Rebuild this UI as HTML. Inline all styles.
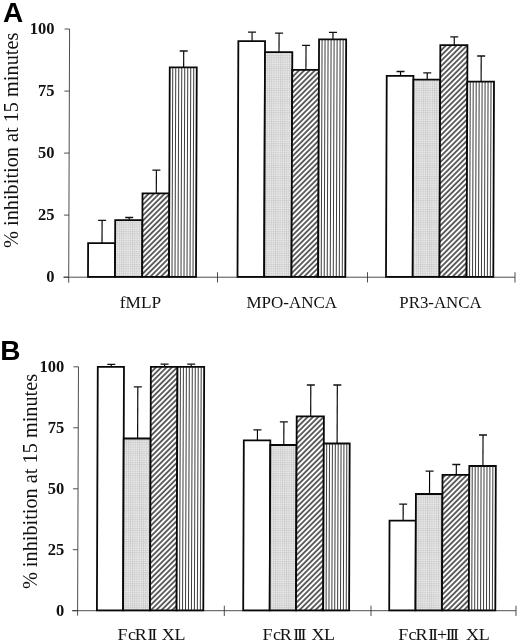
<!DOCTYPE html>
<html><head><meta charset="utf-8"><title>Figure</title>
<style>
html,body{margin:0;padding:0;background:#fff;}
body{width:520px;height:643px;overflow:hidden;}
svg{display:block;}
.lab{font-family:"Liberation Serif",serif;font-size:17px;fill:#111;}
.tick{font-family:"Liberation Serif",serif;font-size:16.5px;font-weight:bold;fill:#111;}
.yl{font-family:"Liberation Serif",serif;font-size:20.3px;fill:#111;}
.pan{font-family:"Liberation Sans",sans-serif;font-size:28px;font-weight:bold;fill:#000;}
</style></head><body>
<svg width="520" height="643" viewBox="0 0 520 643">
<defs>
<pattern id="pg" width="2.2" height="2.2" patternUnits="userSpaceOnUse">
<rect width="2.2" height="2.2" fill="#eeeeee"/>
<path d="M0 0.5H2.2M0.5 0V2.2" stroke="#cacaca" stroke-width="0.75"/>
</pattern>
<pattern id="pd" width="3.75" height="3.75" patternUnits="userSpaceOnUse" patternTransform="rotate(-45)">
<rect width="3.75" height="3.75" fill="#fff"/>
<path d="M0 1.9H3.75" stroke="#000" stroke-width="1.2"/>
</pattern>
</defs>
<rect width="520" height="643" fill="#fff"/>

<text class="pan" x="3" y="21.7">A</text>
<text class="yl" transform="translate(18.4,140.3) rotate(-90)" text-anchor="middle">% inhibition at 15 minutes</text>
<g transform="translate(0.998 0) skewX(-0.206)">
<path d="M68.7 29V282.7M63.5 277.2H515" stroke="#3a3a3a" stroke-width="0.9" fill="none"/>
<path d="M63.7 277.2H68.7" stroke="#3a3a3a" stroke-width="0.9"/>
<path d="M63.7 215.1H68.7" stroke="#3a3a3a" stroke-width="0.9"/>
<path d="M63.7 153.1H68.7" stroke="#3a3a3a" stroke-width="0.9"/>
<path d="M63.7 91.1H68.7" stroke="#3a3a3a" stroke-width="0.9"/>
<path d="M63.7 29.0H68.7" stroke="#3a3a3a" stroke-width="0.9"/>
<path d="M217.5 272.2V282.5" stroke="#3a3a3a" stroke-width="0.9"/>
<path d="M367.5 272.2V282.5" stroke="#3a3a3a" stroke-width="0.9"/>
<path d="M515 272.2V282.5" stroke="#3a3a3a" stroke-width="0.9"/>
<path d="M101.9 243.2V220.4" stroke="#000" stroke-width="1.15"/>
<path d="M97.9 220.4H105.9" stroke="#111" stroke-width="1.3"/>
<rect x="88" y="243.2" width="27.0" height="33.6" fill="#fff" stroke="#080808" stroke-width="1.8"/>
<path d="M129.0 220.2V217.5" stroke="#000" stroke-width="1.15"/>
<path d="M125.0 217.5H133.0" stroke="#111" stroke-width="1.3"/>
<rect x="115" y="220.2" width="27.2" height="56.6" fill="url(#pg)" stroke="#080808" stroke-width="1.8"/>
<path d="M156.0 193.3V170.2" stroke="#000" stroke-width="1.15"/>
<path d="M152.0 170.2H160.0" stroke="#111" stroke-width="1.3"/>
<rect x="142.2" y="193.3" width="26.8" height="83.5" fill="url(#pd)" stroke="#080808" stroke-width="1.8"/>
<path d="M182.9 67.3V51" stroke="#000" stroke-width="1.15"/>
<path d="M178.9 51H186.9" stroke="#111" stroke-width="1.3"/>
<rect x="169" y="67.3" width="27.0" height="209.5" fill="#fff" stroke="#080808" stroke-width="1.8"/>
<path d="M172.00 67.3V276.8M175.00 67.3V276.8M178.00 67.3V276.8M181.00 67.3V276.8M184.00 67.3V276.8M187.00 67.3V276.8M190.00 67.3V276.8M193.00 67.3V276.8" stroke="#1a1a1a" stroke-width="0.85" fill="none"/>
<path d="M251.2 41.2V32.2" stroke="#000" stroke-width="1.15"/>
<path d="M247.2 32.2H255.2" stroke="#111" stroke-width="1.3"/>
<rect x="237.5" y="41.2" width="26.7" height="235.6" fill="#fff" stroke="#080808" stroke-width="1.8"/>
<path d="M278.2 52.1V33.1" stroke="#000" stroke-width="1.15"/>
<path d="M274.2 33.1H282.2" stroke="#111" stroke-width="1.3"/>
<rect x="264.2" y="52.1" width="27.3" height="224.7" fill="url(#pg)" stroke="#080808" stroke-width="1.8"/>
<path d="M305.2 69.8V45.4" stroke="#000" stroke-width="1.15"/>
<path d="M301.2 45.4H309.2" stroke="#111" stroke-width="1.3"/>
<rect x="291.5" y="69.8" width="26.7" height="207.0" fill="url(#pd)" stroke="#080808" stroke-width="1.8"/>
<path d="M332.1 39.4V32.3" stroke="#000" stroke-width="1.15"/>
<path d="M328.1 32.3H336.1" stroke="#111" stroke-width="1.3"/>
<rect x="318.2" y="39.4" width="27.1" height="237.4" fill="#fff" stroke="#080808" stroke-width="1.8"/>
<path d="M321.21 39.4V276.8M324.22 39.4V276.8M327.23 39.4V276.8M330.24 39.4V276.8M333.26 39.4V276.8M336.27 39.4V276.8M339.28 39.4V276.8M342.29 39.4V276.8" stroke="#1a1a1a" stroke-width="0.85" fill="none"/>
<path d="M399.8 75.8V71.5" stroke="#000" stroke-width="1.15"/>
<path d="M395.8 71.5H403.8" stroke="#111" stroke-width="1.3"/>
<rect x="386" y="75.8" width="26.7" height="201.0" fill="#fff" stroke="#080808" stroke-width="1.8"/>
<path d="M426.5 79.6V72.9" stroke="#000" stroke-width="1.15"/>
<path d="M422.5 72.9H430.5" stroke="#111" stroke-width="1.3"/>
<rect x="412.7" y="79.6" width="26.8" height="197.2" fill="url(#pg)" stroke="#080808" stroke-width="1.8"/>
<path d="M453.4 45.2V36.9" stroke="#000" stroke-width="1.15"/>
<path d="M449.4 36.9H457.4" stroke="#111" stroke-width="1.3"/>
<rect x="439.5" y="45.2" width="27.1" height="231.6" fill="url(#pd)" stroke="#080808" stroke-width="1.8"/>
<path d="M480.4 81.7V56" stroke="#000" stroke-width="1.15"/>
<path d="M476.4 56H484.4" stroke="#111" stroke-width="1.3"/>
<rect x="466.6" y="81.7" width="26.7" height="195.1" fill="#fff" stroke="#080808" stroke-width="1.8"/>
<path d="M469.57 81.7V276.8M472.53 81.7V276.8M475.50 81.7V276.8M478.47 81.7V276.8M481.43 81.7V276.8M484.40 81.7V276.8M487.37 81.7V276.8M490.33 81.7V276.8" stroke="#1a1a1a" stroke-width="0.85" fill="none"/>
</g>
<text class="tick" x="54.6" y="282.4" text-anchor="end">0</text>
<text class="tick" x="54.6" y="220.3" text-anchor="end">25</text>
<text class="tick" x="54.6" y="158.3" text-anchor="end">50</text>
<text class="tick" x="54.6" y="96.3" text-anchor="end">75</text>
<text class="tick" x="54.6" y="34.2" text-anchor="end">100</text>
<text class="lab" x="119.8" y="307.8" textLength="41.3" lengthAdjust="spacingAndGlyphs">fMLP</text>
<text class="lab" x="246.5" y="307.8" textLength="90.5" lengthAdjust="spacingAndGlyphs">MPO-ANCA</text>
<text class="lab" x="399.3" y="307.8" textLength="82.3" lengthAdjust="spacingAndGlyphs">PR3-ANCA</text>
<text class="pan" x="0.3" y="360">B</text>
<text class="yl" transform="translate(37.3,481.5) rotate(-90)" text-anchor="middle">% inhibition at 15 minutes</text>
<g transform="translate(2.199 0) skewX(-0.206)">
<path d="M77.6 366.8V615.7M72 610.7H516" stroke="#3a3a3a" stroke-width="0.9" fill="none"/>
<path d="M72.6 610.7H77.6" stroke="#3a3a3a" stroke-width="0.9"/>
<path d="M72.6 549.7H77.6" stroke="#3a3a3a" stroke-width="0.9"/>
<path d="M72.6 488.8H77.6" stroke="#3a3a3a" stroke-width="0.9"/>
<path d="M72.6 427.8H77.6" stroke="#3a3a3a" stroke-width="0.9"/>
<path d="M72.6 366.8H77.6" stroke="#3a3a3a" stroke-width="0.9"/>
<path d="M224.3 605.7V616.0" stroke="#3a3a3a" stroke-width="0.9"/>
<path d="M371 605.7V616.0" stroke="#3a3a3a" stroke-width="0.9"/>
<path d="M516 605.7V616.0" stroke="#3a3a3a" stroke-width="0.9"/>
<path d="M110.4 366.9V364.4" stroke="#000" stroke-width="1.15"/>
<path d="M106.4 364.4H114.4" stroke="#111" stroke-width="1.3"/>
<rect x="96.9" y="366.9" width="26.2" height="243.4" fill="#fff" stroke="#080808" stroke-width="1.8"/>
<path d="M137.0 438.5V386.9" stroke="#000" stroke-width="1.15"/>
<path d="M133.0 386.9H141.0" stroke="#111" stroke-width="1.3"/>
<rect x="123.1" y="438.5" width="26.9" height="171.8" fill="url(#pg)" stroke="#080808" stroke-width="1.8"/>
<path d="M163.7 366.9V364.2" stroke="#000" stroke-width="1.15"/>
<path d="M159.7 364.2H167.7" stroke="#111" stroke-width="1.3"/>
<rect x="150" y="366.9" width="26.6" height="243.4" fill="url(#pd)" stroke="#080808" stroke-width="1.8"/>
<path d="M190.3 366.9V364.2" stroke="#000" stroke-width="1.15"/>
<path d="M186.3 364.2H194.3" stroke="#111" stroke-width="1.3"/>
<rect x="176.6" y="366.9" width="26.7" height="243.4" fill="#fff" stroke="#080808" stroke-width="1.8"/>
<path d="M179.57 366.9V610.3M182.53 366.9V610.3M185.50 366.9V610.3M188.47 366.9V610.3M191.43 366.9V610.3M194.40 366.9V610.3M197.37 366.9V610.3M200.33 366.9V610.3" stroke="#1a1a1a" stroke-width="0.85" fill="none"/>
<path d="M256.8 440.4V429.8" stroke="#000" stroke-width="1.15"/>
<path d="M252.8 429.8H260.8" stroke="#111" stroke-width="1.3"/>
<rect x="243.2" y="440.4" width="26.5" height="169.9" fill="#fff" stroke="#080808" stroke-width="1.8"/>
<path d="M283.2 445V421.9" stroke="#000" stroke-width="1.15"/>
<path d="M279.2 421.9H287.2" stroke="#111" stroke-width="1.3"/>
<rect x="269.7" y="445" width="26.3" height="165.3" fill="url(#pg)" stroke="#080808" stroke-width="1.8"/>
<path d="M310.0 416.3V385" stroke="#000" stroke-width="1.15"/>
<path d="M306.0 385H314.0" stroke="#111" stroke-width="1.3"/>
<rect x="296" y="416.3" width="27.2" height="194.0" fill="url(#pd)" stroke="#080808" stroke-width="1.8"/>
<path d="M336.5 443.5V385" stroke="#000" stroke-width="1.15"/>
<path d="M332.5 385H340.5" stroke="#111" stroke-width="1.3"/>
<rect x="323.2" y="443.5" width="25.9" height="166.8" fill="#fff" stroke="#080808" stroke-width="1.8"/>
<path d="M326.08 443.5V610.3M328.96 443.5V610.3M331.83 443.5V610.3M334.71 443.5V610.3M337.59 443.5V610.3M340.47 443.5V610.3M343.34 443.5V610.3M346.22 443.5V610.3" stroke="#1a1a1a" stroke-width="0.85" fill="none"/>
<path d="M402.8 520.6V504.1" stroke="#000" stroke-width="1.15"/>
<path d="M398.8 504.1H406.8" stroke="#111" stroke-width="1.3"/>
<rect x="389.2" y="520.6" width="26.3" height="89.7" fill="#fff" stroke="#080808" stroke-width="1.8"/>
<path d="M429.1 494V471.2" stroke="#000" stroke-width="1.15"/>
<path d="M425.1 471.2H433.1" stroke="#111" stroke-width="1.3"/>
<rect x="415.5" y="494" width="26.5" height="116.3" fill="url(#pg)" stroke="#080808" stroke-width="1.8"/>
<path d="M455.8 474.9V464.5" stroke="#000" stroke-width="1.15"/>
<path d="M451.8 464.5H459.8" stroke="#111" stroke-width="1.3"/>
<rect x="442" y="474.9" width="26.8" height="135.4" fill="url(#pd)" stroke="#080808" stroke-width="1.8"/>
<path d="M482.4 466V435" stroke="#000" stroke-width="1.15"/>
<path d="M478.4 435H486.4" stroke="#111" stroke-width="1.3"/>
<rect x="468.8" y="466" width="26.5" height="144.3" fill="#fff" stroke="#080808" stroke-width="1.8"/>
<path d="M471.74 466V610.3M474.69 466V610.3M477.63 466V610.3M480.58 466V610.3M483.52 466V610.3M486.47 466V610.3M489.41 466V610.3M492.36 466V610.3" stroke="#1a1a1a" stroke-width="0.85" fill="none"/>
</g>
<text class="tick" x="64.3" y="615.9" text-anchor="end">0</text>
<text class="tick" x="64.3" y="554.9" text-anchor="end">25</text>
<text class="tick" x="64.3" y="493.9" text-anchor="end">50</text>
<text class="tick" x="64.3" y="433.0" text-anchor="end">75</text>
<text class="tick" x="64.3" y="372.0" text-anchor="end">100</text>
<text class="lab" transform="scale(1.06 1)" y="640.4" x="110.75 120.66 127.08 139.25 142.74 147.17 152.55 164.72">FcRII XL</text>
<text class="lab" transform="scale(1.06 1)" y="640.4" x="247.55 257.45 263.87 276.60 280.09 283.58 288.68 293.87 305.66">FcRIII XL</text>
<text class="lab" transform="scale(1.06 1)" y="640.4" x="375.66 385.47 391.98 403.96 407.45 412.36 420.47 423.96 427.45 433.02 439.62 451.60">FcRII+III XL</text>
</svg></body></html>
